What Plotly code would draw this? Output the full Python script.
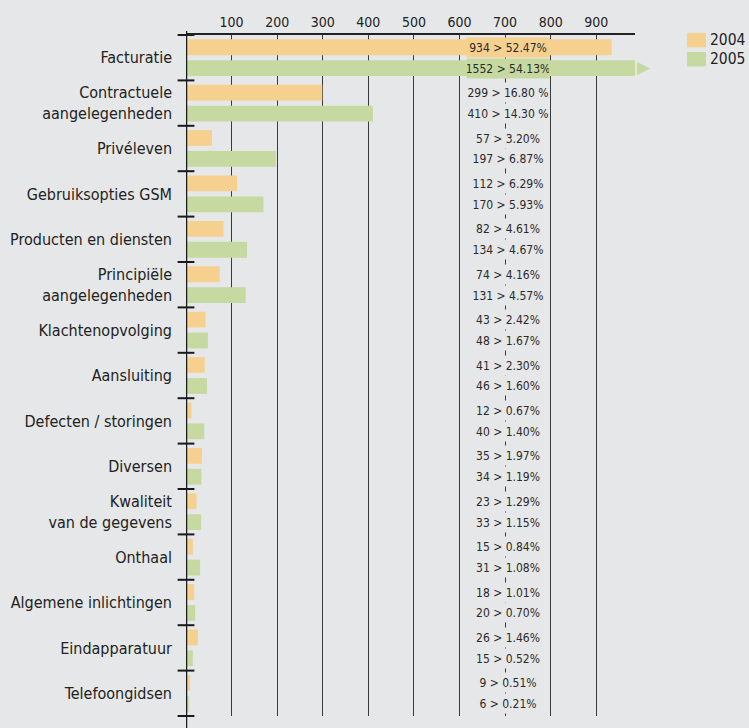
import plotly.graph_objects as go

# Complaint categories (top to bottom)
categories = [
    "Facturatie",
    "Contractuele<br>aangelegenheden",
    "Privéleven",
    "Gebruiksopties GSM",
    "Producten en diensten",
    "Principiële<br>aangelegenheden",
    "Klachtenopvolging",
    "Aansluiting",
    "Defecten / storingen",
    "Diversen",
    "Kwaliteit<br>van de gegevens",
    "Onthaal",
    "Algemene inlichtingen",
    "Eindapparatuur",
    "Telefoongidsen",
]

counts_2004 = [934, 299, 57, 112, 82, 74, 43, 41, 12, 35, 23, 15, 18, 26, 9]
counts_2005 = [1552, 410, 197, 170, 134, 131, 48, 46, 40, 34, 33, 31, 20, 15, 6]

share_2004 = ["52.47%", "16.80 %", "3.20%", "6.29%", "4.61%", "4.16%", "2.42%", "2.30%",
              "0.67%", "1.97%", "1.29%", "0.84%", "1.01%", "1.46%", "0.51%"]
share_2005 = ["54.13%", "14.30 %", "6.87%", "5.93%", "4.67%", "4.57%", "1.67%", "1.60%",
              "1.40%", "1.19%", "1.15%", "1.08%", "0.70%", "0.52%", "0.21%"]

x_ticks = [100, 200, 300, 400, 500, 600, 700, 800, 900]
X_MAX = 985          # visible end of the value axis; longer bars are cut off
LABEL_X = 706        # horizontal position of the value labels

BG = "#e6e7e8"
C2004 = "#f6d08f"
C2005 = "#c6d9a0"
FONT = "DejaVu Sans Condensed, Roboto, sans-serif"

pos = list(range(len(categories)))
boundaries = [i - 0.5 for i in range(len(categories) + 1)]

fig = go.Figure()
fig.add_trace(go.Bar(y=pos, x=counts_2004, orientation="h", name="2004",
                     marker=dict(color=C2004, line=dict(width=0)), showlegend=False))
fig.add_trace(go.Bar(y=pos, x=counts_2005, orientation="h", name="2005",
                     marker=dict(color=C2005, line=dict(width=0)), showlegend=False))

# short ticks crossing the category axis at the group boundaries
fig.add_trace(go.Scatter(
    x=[0] * len(boundaries), y=boundaries, mode="markers", cliponaxis=False,
    marker=dict(symbol="line-ew", size=12, line=dict(width=2, color="#1a1a1a")),
    showlegend=False, hoverinfo="skip"))

annotations = []
for i in pos:
    for off, n, s, col in ((-0.23, counts_2004[i], share_2004[i], C2004),
                           (0.23, counts_2005[i], share_2005[i], C2005)):
        annotations.append(dict(
            x=LABEL_X, y=i + off, xref="x", yref="y",
            text=f"{n} > {s}", showarrow=False,
            font=dict(family=FONT, size=12, color="#2a2a2a"),
            width=82, height=19, borderpad=0,
            bgcolor=col if n > LABEL_X + 100 else BG))

# arrow marking the bars that run past the axis end
for i, v in enumerate(counts_2005):
    if v > X_MAX:
        annotations.append(dict(x=X_MAX, y=i + 0.23, xref="x", yref="y",
                                text="▶", showarrow=False, xanchor="left",
                                yshift=1,
                                font=dict(family="DejaVu Sans", size=17, color=C2005)))

# legend entries
for j, (name, col) in enumerate((("2004", C2004), ("2005", C2005))):
    y_top = 1.003 - j * 0.028
    fig.add_shape(type="rect", xref="paper", yref="paper",
                  x0=1.1158, x1=1.158, y0=y_top - 0.021, y1=y_top,
                  fillcolor=col, line=dict(width=0))
    annotations.append(dict(x=1.163, y=y_top - 0.0105, xref="paper", yref="paper",
                            text=name, showarrow=False, xanchor="left", yanchor="middle",
                            font=dict(family=FONT, size=15.5, color="#222222")))

# main vertical axis line, running past the plot area
fig.add_shape(type="line", xref="x", yref="paper", x0=0, x1=0, y0=-0.02, y1=1.006,
              line=dict(color="#1a1a1a", width=2.5), layer="above")

fig.update_layout(
    width=749, height=728,
    margin=dict(l=186, r=114, t=35, b=12),
    paper_bgcolor=BG, plot_bgcolor=BG,
    barmode="group", bargap=0.08, bargroupgap=0.245,
    font=dict(family=FONT, color="#222222"),
    annotations=annotations,
    xaxis=dict(side="top", range=[0, X_MAX], tickmode="array", tickvals=x_ticks,
               ticks="", tickfont=dict(size=14, color="#222222"),
               showgrid=True, gridcolor="#3a3a3a", gridwidth=1.3,
               showline=True, linecolor="#222222", linewidth=2,
               zeroline=False, fixedrange=True, automargin=False),
    yaxis=dict(range=[len(categories) - 0.5, -0.5], tickmode="array",
               tickvals=pos, ticktext=categories, ticks="",
               tickfont=dict(size=16, color="#222222"), ticklabelstandoff=13,
               showgrid=False, zeroline=False, showline=False, automargin=False),
)

fig.write_html("out.html")
